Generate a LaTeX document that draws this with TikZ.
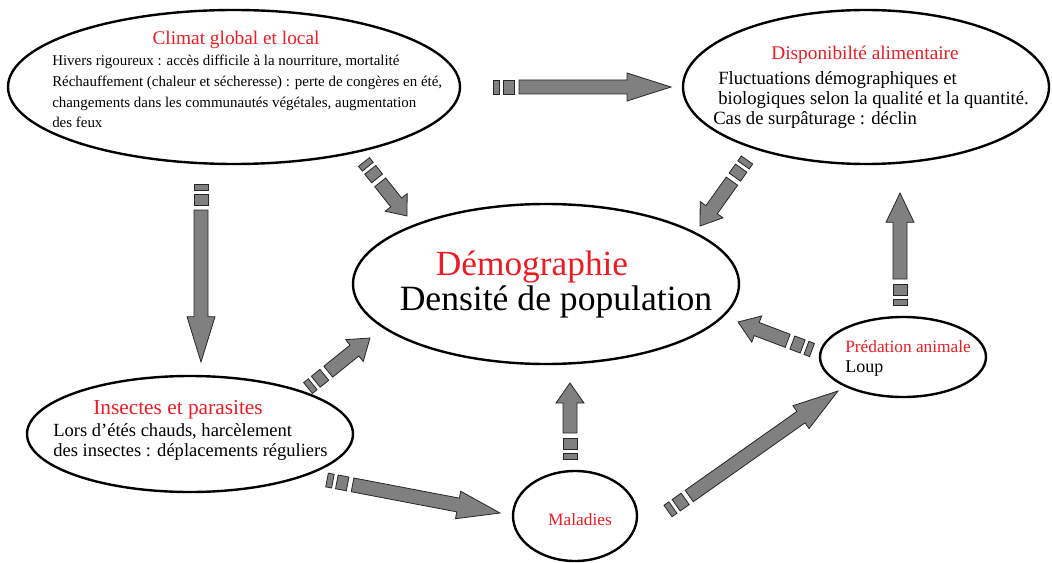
\documentclass[tikz,border=0pt]{standalone}
\usepackage{fontspec}
\setmainfont{Liberation Serif}
\usetikzlibrary{calc,shapes.geometric}

\definecolor{titrerouge}{RGB}{237,28,36}
\definecolor{grisfleche}{RGB}{128,128,128}

\tikzset{
  bulle/.style={draw, ellipse, line width=1.8pt, inner sep=0pt},
  grosse fleche/.style={fill=grisfleche, draw=black!85, line width=0.6pt, line join=miter},
  titre/.style={text=titrerouge, inner sep=0pt},
  corps/.style={align=left, inner sep=0pt},
}

% fleche grise : queue, pointe, longueur de la tete
\newcommand{\grossefleche}[3]{%
  \filldraw[grosse fleche] ($(#1)!5.25pt!90:(#2)$) -- ($(#1)!4.5pt!(#2)!5.25pt!90:(#2)$)
    -- ($(#1)!4.5pt!(#2)!5.25pt!-90:(#2)$) -- ($(#1)!5.25pt!-90:(#2)$) -- cycle;
  \filldraw[grosse fleche] ($(#1)!7.5pt!(#2)!5.25pt!90:(#2)$) -- ($(#1)!15.75pt!(#2)!5.25pt!90:(#2)$)
    -- ($(#1)!15.75pt!(#2)!5.25pt!-90:(#2)$) -- ($(#1)!7.5pt!(#2)!5.25pt!-90:(#2)$) -- cycle;
  \filldraw[grosse fleche] ($(#1)!19.5pt!(#2)!5.25pt!90:(#2)$) -- ($(#2)!#3!(#1)!5.25pt!-90:(#1)$)
    -- ($(#2)!#3!(#1)!10.5pt!-90:(#1)$) -- (#2) -- ($(#2)!#3!(#1)!10.5pt!90:(#1)$)
    -- ($(#2)!#3!(#1)!5.25pt!90:(#1)$) -- ($(#1)!19.5pt!(#2)!5.25pt!-90:(#2)$) -- cycle;
}

\begin{document}
\begin{tikzpicture}[x=0.75pt,y=0.75pt,yscale=-1,xscale=1]
\useasboundingbox (0,0) rectangle (1052,563);

%Shape: Ellipse
\node[bulle, minimum width=339pt, minimum height=115.5pt] (climat) at (234,87) {};
%Shape: Ellipse
\node[bulle, minimum width=274.5pt, minimum height=115.5pt] (dispo) at (866,87) {};
%Shape: Ellipse
\node[bulle, minimum width=289.5pt, minimum height=120pt] (demo) at (546,284) {};
%Shape: Ellipse
\node[bulle, minimum width=244.5pt, minimum height=87pt] (insectes) at (190,434) {};
%Shape: Ellipse
\node[bulle, minimum width=93pt, minimum height=67.5pt] (maladies) at (575,516) {};
%Shape: Ellipse
\node[bulle, minimum width=124.5pt, minimum height=60pt] (predation) at (903,357) {};

% Text Node
\node[titre, font=\fontsize{14.5}{15}\selectfont, anchor=base] (t-climat) at (236,45) {Climat global et local};
% Text Node
\node[corps, font=\fontsize{11.2}{15.5}\selectfont, anchor=north west] (c-climat) at (52,55)
  {Hivers rigoureux : accès difficile à la nourriture, mortalité\\
   Réchauffement (chaleur et sécheresse) : perte de congères en été,\\
   changements dans les communautés végétales, augmentation\\
   des feux};
% Text Node
\node[titre, font=\fontsize{14.5}{15}\selectfont, anchor=base] (t-dispo) at (865,60) {Disponibilté alimentaire};
% Text Node
\node[corps, font=\fontsize{14}{15.2}\selectfont, anchor=north west] (c-dispo) at (713,71)
  {\hspace*{3.75pt}Fluctuations démographiques et\\
   \hspace*{3.75pt}biologiques selon la qualité et la quantité.\\
   Cas de surpâturage : déclin};
% Text Node
\node[titre, font=\fontsize{26.5}{30}\selectfont, anchor=base] (t-demo) at (532,275) {Démographie};
% Text Node
\node[inner sep=0pt, font=\fontsize{26.7}{30}\selectfont, anchor=base] (c-demo) at (556,310) {Densité de population};
% Text Node
\node[titre, font=\fontsize{16}{15}\selectfont, anchor=base] (t-insectes) at (178,414) {Insectes et parasites};
% Text Node
\node[corps, font=\fontsize{13.9}{15.5}\selectfont, anchor=north west] (c-insectes) at (53,423)
  {Lors d'étés chauds, harcèlement\\
   des insectes : déplacements réguliers};
% Text Node
\node[titre, font=\fontsize{13}{15}\selectfont, anchor=base] (t-maladies) at (580,525) {Maladies};
% Text Node
\node[titre, font=\fontsize{13}{15}\selectfont, anchor=base west] (t-predation) at (845,352) {Prédation animale};
% Text Node
\node[inner sep=0pt, font=\fontsize{13.5}{15}\selectfont, anchor=base west] (c-predation) at (845,372) {Loup};

% Arrows : queue (q) et pointe (p)
\coordinate (q1) at (493,87);   \coordinate (p1) at (671,87);
\coordinate (q2) at (201,184);  \coordinate (p2) at (201,362);
\coordinate (q3) at (364,162);  \coordinate (p3) at (407,216);
\coordinate (q4) at (747,160);  \coordinate (p4) at (700,226);
\coordinate (q5) at (308,388);  \coordinate (p5) at (370,338);
\coordinate (q6) at (327,480);  \coordinate (p6) at (500,513);
\coordinate (q7) at (570,459);  \coordinate (p7) at (570,383);
\coordinate (q8) at (668,511);  \coordinate (p8) at (838,391);
\coordinate (q9) at (812,350);  \coordinate (p9) at (738,322);
\coordinate (q10) at (900,305); \coordinate (p10) at (900,193);

\grossefleche{q1}{p1}{33pt}
\grossefleche{q2}{p2}{34pt}
\grossefleche{q3}{p3}{13pt}
\grossefleche{q4}{p4}{15pt}
\grossefleche{q5}{p5}{15pt}
\grossefleche{q6}{p6}{32pt}
\grossefleche{q7}{p7}{15pt}
\grossefleche{q8}{p8}{34pt}
\grossefleche{q9}{p9}{15pt}
\grossefleche{q10}{p10}{22pt}

\end{tikzpicture}
\end{document}
